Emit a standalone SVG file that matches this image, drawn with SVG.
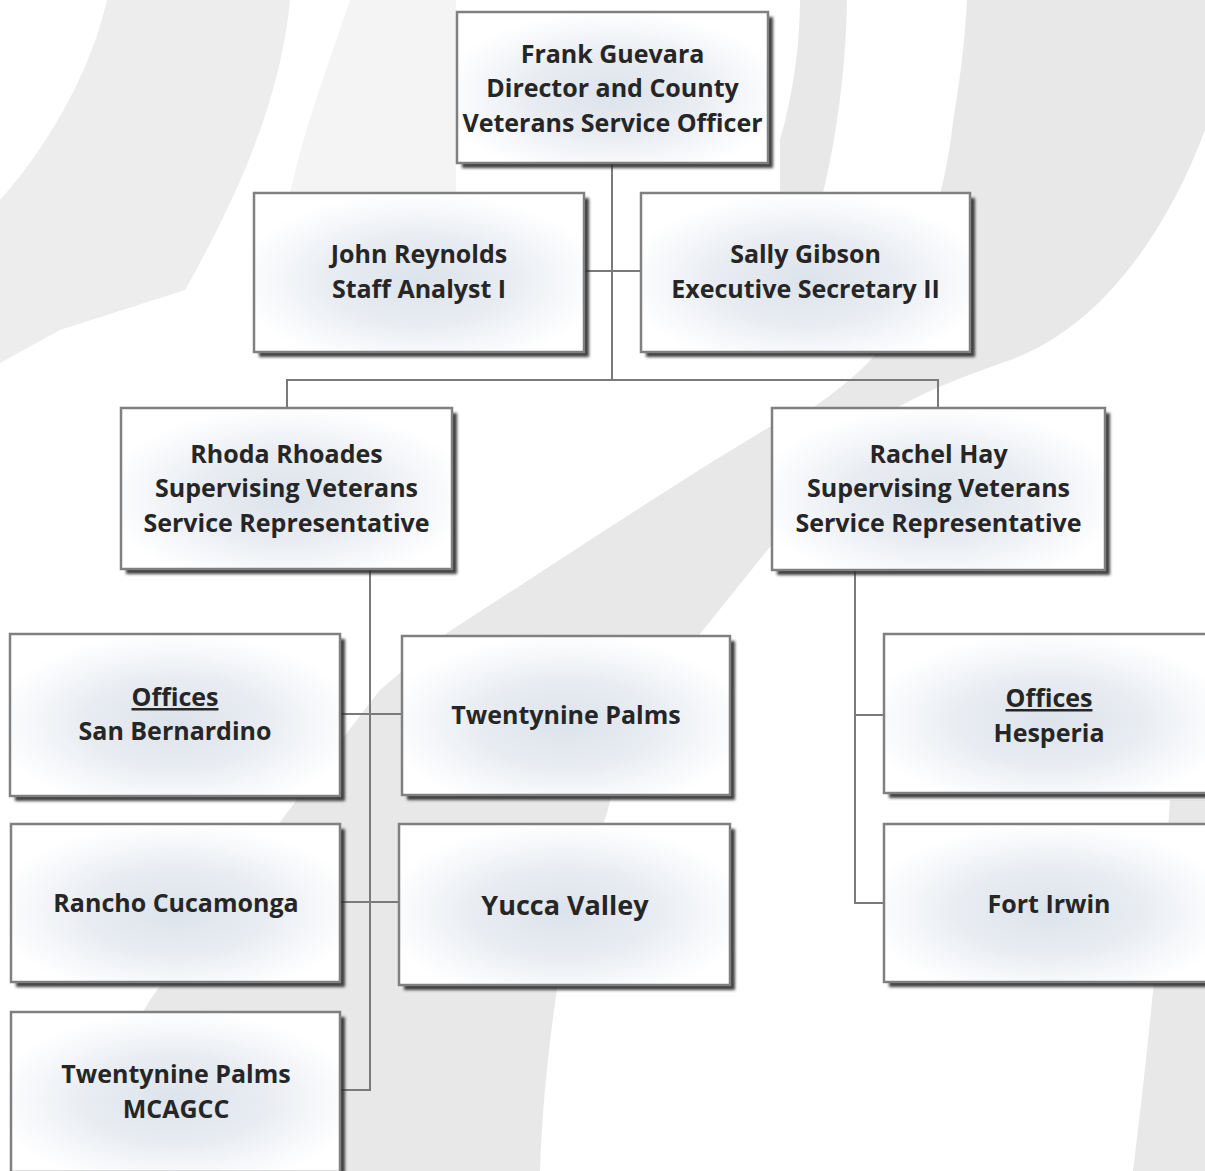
<svg xmlns="http://www.w3.org/2000/svg" width="1205" height="1171" viewBox="0 0 1205 1171">
<defs>
<radialGradient id="fillg" cx="50%" cy="55%" r="56%">
<stop offset="0" stop-color="#dce3eb"/>
<stop offset="0.5" stop-color="#e9edf2"/>
<stop offset="0.85" stop-color="#f9fafc"/>
<stop offset="1" stop-color="#ffffff"/>
</radialGradient>
<filter id="blur" x="-10%" y="-10%" width="120%" height="120%">
<feGaussianBlur stdDeviation="1.4"/>
</filter>
</defs>
<style>
.bg1{fill:#e8e8e8}
.bgA{fill:#ededed}
.bg2{fill:#f4f4f4}
.sh{fill:#2a2a2a;opacity:0.9;filter:url(#blur)}
.box{fill:url(#fillg);stroke:#808080;stroke-width:2.5}
.conn{fill:none;stroke:#7a7a7a;stroke-width:2}
text{font-family:"Open Sans","Noto Sans","DejaVu Sans",sans-serif;font-weight:700;font-size:25px;fill:#262626;text-anchor:middle}
.u{text-decoration:underline}
</style>
<rect width="1205" height="1171" fill="#ffffff"/>
<g id="background">
<path class="bgA" d="M107,0 L290,0 C282,85 250,175 185,290 L60,330 L0,363 L0,200 C45,150 90,75 107,0 Z"/>
<path class="bg2" d="M350,0 L456,0 L456,193 L290,193 C305,125 330,60 350,0 Z"/>
<path class="bg1" d="M800,0 L847,0 C846,70 836,140 823,193 L780,193 L780,140 C793,95 800,45 800,0 Z"/>
<path class="bg1" d="M967,0 L1205,0 L1205,130 C1160,250 1090,330 1013,359 C960,378 900,398 850,440 L790,425 C830,395 865,372 885,342 C912,295 945,200 953,122 C960,80 965,40 967,0 Z"/>
<path class="bg1" d="M773,425 L865,445 C830,475 790,510 773,543 L700,634 C650,700 620,760 607,813 C585,880 565,940 557,989 C548,1050 542,1110 540,1171 L60,1171 C90,1110 120,1050 150,1000 C230,890 310,780 380,690 L447,633 C560,560 680,480 773,425 Z"/>
<path class="bg1" d="M1170,800 C1163,900 1148,1050 1133,1171 L1205,1171 L1205,800 Z"/>
</g>
<g id="connectors">
<path class="conn" d="M612,163 V380"/>
<path class="conn" d="M584,271 H641"/>
<path class="conn" d="M287,408 V380 H938 V408"/>
<path class="conn" d="M370,569 V1090 H340"/>
<path class="conn" d="M340,714 H402"/>
<path class="conn" d="M340,902 H399"/>
<path class="conn" d="M855,570 V903 H884 M855,715 H884"/>
</g>
<g id="frank">
<rect class="sh" x="462" y="17" width="311" height="151"/>
<rect class="box" x="457" y="12" width="311" height="151"/>
<text x="612.5" y="63">Frank Guevara</text>
<text x="612.5" y="97">Director and County</text>
<text x="612.5" y="132">Veterans Service Officer</text>
</g>
<g id="john">
<rect class="sh" x="259" y="198" width="330" height="159"/>
<rect class="box" x="254" y="193" width="330" height="159"/>
<text x="419" y="263">John Reynolds</text>
<text x="419" y="298">Staff Analyst I</text>
</g>
<g id="sally">
<rect class="sh" x="646" y="198" width="329" height="159"/>
<rect class="box" x="641" y="193" width="329" height="159"/>
<text x="805.5" y="263">Sally Gibson</text>
<text x="805.5" y="298">Executive Secretary II</text>
</g>
<g id="rhoda">
<rect class="sh" x="126" y="413" width="331" height="161"/>
<rect class="box" x="121" y="408" width="331" height="161"/>
<text x="286.5" y="463">Rhoda Rhoades</text>
<text x="286.5" y="497">Supervising Veterans</text>
<text x="286.5" y="532">Service Representative</text>
</g>
<g id="rachel">
<rect class="sh" x="777" y="413" width="333" height="162"/>
<rect class="box" x="772" y="408" width="333" height="162"/>
<text x="938.5" y="463">Rachel Hay</text>
<text x="938.5" y="497">Supervising Veterans</text>
<text x="938.5" y="532">Service Representative</text>
</g>
<g id="sanbernardino">
<rect class="sh" x="15" y="639" width="330" height="162"/>
<rect class="box" x="10" y="634" width="330" height="162"/>
<text x="175" y="706" class="u">Offices</text>
<text x="175" y="740">San Bernardino</text>
</g>
<g id="twentynine">
<rect class="sh" x="407" y="641" width="328" height="159"/>
<rect class="box" x="402" y="636" width="328" height="159"/>
<text x="566" y="724">Twentynine Palms</text>
</g>
<g id="rancho">
<rect class="sh" x="16" y="829" width="329" height="158"/>
<rect class="box" x="11" y="824" width="329" height="158"/>
<text x="176" y="912">Rancho Cucamonga</text>
</g>
<g id="yucca">
<rect class="sh" x="404" y="829" width="331" height="161"/>
<rect class="box" x="399" y="824" width="331" height="161"/>
<text x="565" y="915" style="font-size:27px">Yucca Valley</text>
</g>
<g id="mcagcc">
<rect class="sh" x="16" y="1017" width="329" height="160"/>
<rect class="box" x="11" y="1012" width="329" height="160"/>
<text x="176" y="1083">Twentynine Palms</text>
<text x="176" y="1118">MCAGCC</text>
</g>
<g id="hesperia">
<rect class="sh" x="889" y="639" width="330" height="159"/>
<rect class="box" x="884" y="634" width="330" height="159"/>
<text x="1049" y="707" class="u">Offices</text>
<text x="1049" y="742">Hesperia</text>
</g>
<g id="fortirwin">
<rect class="sh" x="889" y="829" width="330" height="158"/>
<rect class="box" x="884" y="824" width="330" height="158"/>
<text x="1049" y="913">Fort Irwin</text>
</g>
</svg>
